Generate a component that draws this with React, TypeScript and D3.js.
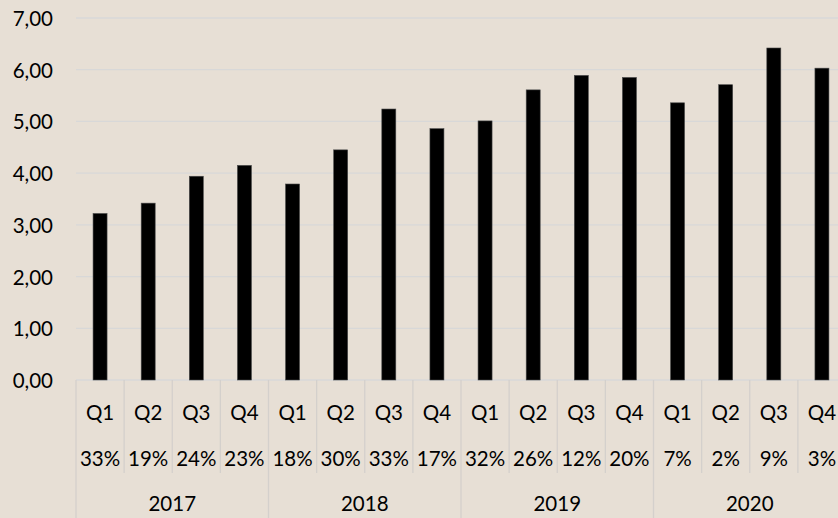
import React from "react";
import * as d3 from "d3";

const years = ["2017", "2018", "2019", "2020"];
const quarters = ["Q1", "Q2", "Q3", "Q4"];
const values = [3.22, 3.42, 3.94, 4.15, 3.79, 4.45, 5.24, 4.86, 5.01, 5.61, 5.89, 5.85, 5.36, 5.71, 6.42, 6.03];
const growth = ["33%", "19%", "24%", "23%", "18%", "30%", "33%", "17%", "32%", "26%", "12%", "20%", "7%", "2%", "9%", "3%"];
const yTicks = [0, 1, 2, 3, 4, 5, 6, 7];

const W = 838;
const H = 518;
const left = 76;
const right = 846;
const top = 18;
const bottom = 380;

export default function App() {
  const cats = values.map((_, i) => `${years[Math.floor(i / 4)]}-${quarters[i % 4]}`);
  const x = d3.scaleBand<string>().domain(cats).range([left, right]).paddingInner(0).paddingOuter(0);
  const y = d3.scaleLinear().domain([0, 7]).range([bottom, top]);
  const bw = 14;
  const font = "Lato, 'Open Sans', sans-serif";
  const bg = "#E7DFD5";
  const grid = "#D8D8D8";
  const sep = "#D4D0CC";
  const fmt = (v: number) => v.toFixed(2).replace(".", ",");

  return (
    <svg width={W} height={H} style={{ position: "absolute", left: 0, top: 0, display: "block" }}>
      <rect x={0} y={0} width={W} height={H} fill={bg} />
      {yTicks.map((t) => (
        <g key={t}>
          <line x1={left} x2={right} y1={y(t)} y2={y(t)} stroke={grid} strokeWidth={1.3} />
          <text x={53} y={y(t)} textAnchor="end" dominantBaseline="central" fontFamily={font} fontSize={20.5} fill="#000">
            {fmt(t)}
          </text>
        </g>
      ))}
      {values.map((v, i) => {
        const cx = (x(cats[i]) as number) + x.bandwidth() / 2;
        return (
          <rect
            key={i}
            x={cx - bw / 2}
            y={y(v)}
            width={bw}
            height={bottom - y(v)}
            fill="#000"
            stroke="#4a4a4a"
            strokeWidth={0.6}
          />
        );
      })}
      {cats.map((c, i) => {
        const x0 = x(c) as number;
        const isYear = i % 4 === 0;
        return (
          <line key={"s" + i} x1={x0} x2={x0} y1={bottom} y2={isYear ? H : 473} stroke={sep} strokeWidth={1.3} />
        );
      })}
      <line x1={right} x2={right} y1={bottom} y2={H} stroke={sep} strokeWidth={1.3} />
      {cats.map((c, i) => {
        const cx = (x(c) as number) + x.bandwidth() / 2;
        return (
          <g key={"l" + i}>
            <text x={cx} y={412} textAnchor="middle" dominantBaseline="central" fontFamily={font} fontSize={20.5} fill="#000">
              {quarters[i % 4]}
            </text>
            <text x={cx} y={458} textAnchor="middle" dominantBaseline="central" fontFamily={font} fontSize={20.5} fill="#000">
              {growth[i]}
            </text>
          </g>
        );
      })}
      {years.map((yr, k) => {
        const x0 = x(cats[k * 4]) as number;
        const cx = x0 + (x.bandwidth() * 4) / 2;
        return (
          <text key={yr} x={cx} y={503} textAnchor="middle" dominantBaseline="central" fontFamily={font} fontSize={20.5} fill="#000">
            {yr}
          </text>
        );
      })}
    </svg>
  );
}
